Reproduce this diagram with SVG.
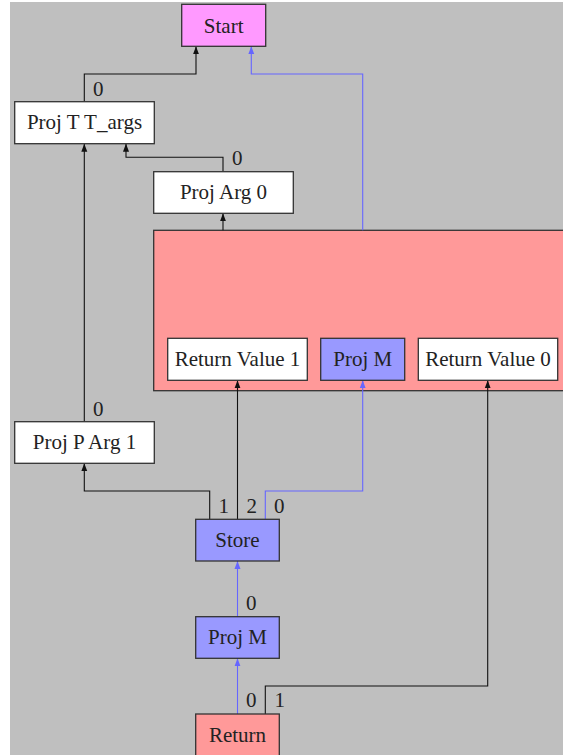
<svg xmlns="http://www.w3.org/2000/svg" width="563" height="755" viewBox="0 0 563 755">
<defs>
<style>
.n{stroke:#333;stroke-width:1.3}
.w{fill:#fff}
.b{fill:#9999ff}
.r{fill:#ff9999}
.p{fill:#ff99ff}
text{font-family:"Liberation Serif","Times New Roman",serif;font-size:21px;fill:#222}
.c{text-anchor:middle}
.e{fill:none;stroke:#111;stroke-width:1.1}
.eb{fill:none;stroke:#6666ff;stroke-width:1.1}
</style>
<marker id="ak" markerUnits="userSpaceOnUse" markerWidth="8" markerHeight="8" viewBox="0 0 8 8" refX="8" refY="4" orient="auto"><path d="M0,1 L8,4 L0,7 Z" fill="#111"/></marker>
<marker id="ab" markerUnits="userSpaceOnUse" markerWidth="8" markerHeight="8" viewBox="0 0 8 8" refX="8" refY="4" orient="auto"><path d="M0,1 L8,4 L0,7 Z" fill="#6666ff"/></marker>
</defs>
<rect x="10" y="2" width="553" height="753" fill="#bfbfbf"/>
<g id="cluster"><rect class="n r" x="153.7" y="230.3" width="420" height="160.4"/></g>
<g id="edges">
<path class="e" d="M84.3,101.7 V74 H196 V46.3" marker-end="url(#ak)"/>
<path class="eb" d="M362.7,230.3 V74 H251.3 V46.3" marker-end="url(#ab)"/>
<path class="e" d="M223,171.7 V157.3 H126 V143.7" marker-end="url(#ak)"/>
<path class="e" d="M223,230.3 V213.3" marker-end="url(#ak)"/>
<path class="e" d="M84.3,421.7 V143.7" marker-end="url(#ak)"/>
<path class="e" d="M209.7,519.3 V491 H84.3 V463.3" marker-end="url(#ak)"/>
<path class="e" d="M237.5,519.3 V380.3" marker-end="url(#ak)"/>
<path class="eb" d="M265.3,519.3 V491 H362.7 V380.3" marker-end="url(#ab)"/>
<path class="eb" d="M237.5,616.7 V561" marker-end="url(#ab)"/>
<path class="eb" d="M237.5,714 V658.3" marker-end="url(#ab)"/>
<path class="e" d="M265.3,714 V686 H487.7 V380.3" marker-end="url(#ak)"/>
<text x="93" y="96">0</text>
<text x="232" y="165">0</text>
<text x="93" y="416">0</text>
<text x="218.5" y="513">1</text>
<text x="246.5" y="513">2</text>
<text x="274" y="513">0</text>
<text x="246" y="610">0</text>
<text x="246" y="707">0</text>
<text x="274.5" y="707">1</text>
</g>
<g id="start"><rect class="n p" x="181.7" y="4.3" width="84" height="42"/><text class="c" x="223.7" y="32.5">Start</text></g>
<g id="projTargs"><rect class="n w" x="14.7" y="101.7" width="139.6" height="42"/><text class="c" x="84.5" y="129">Proj T T_args</text></g>
<g id="projArg0"><rect class="n w" x="153.7" y="171.7" width="139.6" height="41.6"/><text class="c" x="223.5" y="199">Proj Arg 0</text></g>
<g id="retVal1"><rect class="n w" x="167.7" y="338.3" width="139.6" height="42"/><text class="c" x="237.5" y="366">Return Value 1</text></g>
<g id="projMc"><rect class="n b" x="320.7" y="338.3" width="84" height="42"/><text class="c" x="362.7" y="366">Proj M</text></g>
<g id="retVal0"><rect class="n w" x="418.3" y="338.3" width="139.4" height="42"/><text class="c" x="488" y="366">Return Value 0</text></g>
<g id="projPArg1"><rect class="n w" x="14.7" y="421.7" width="139.6" height="41.6"/><text class="c" x="84.5" y="449">Proj P Arg 1</text></g>
<g id="store"><rect class="n b" x="195.7" y="519.3" width="83.6" height="41.7"/><text class="c" x="237.5" y="547">Store</text></g>
<g id="projM"><rect class="n b" x="195.7" y="616.7" width="83.6" height="41.6"/><text class="c" x="237.5" y="644">Proj M</text></g>
<g id="return"><rect class="n r" x="195.7" y="714" width="83.6" height="50"/><text class="c" x="237.5" y="741.5">Return</text></g>
</svg>
